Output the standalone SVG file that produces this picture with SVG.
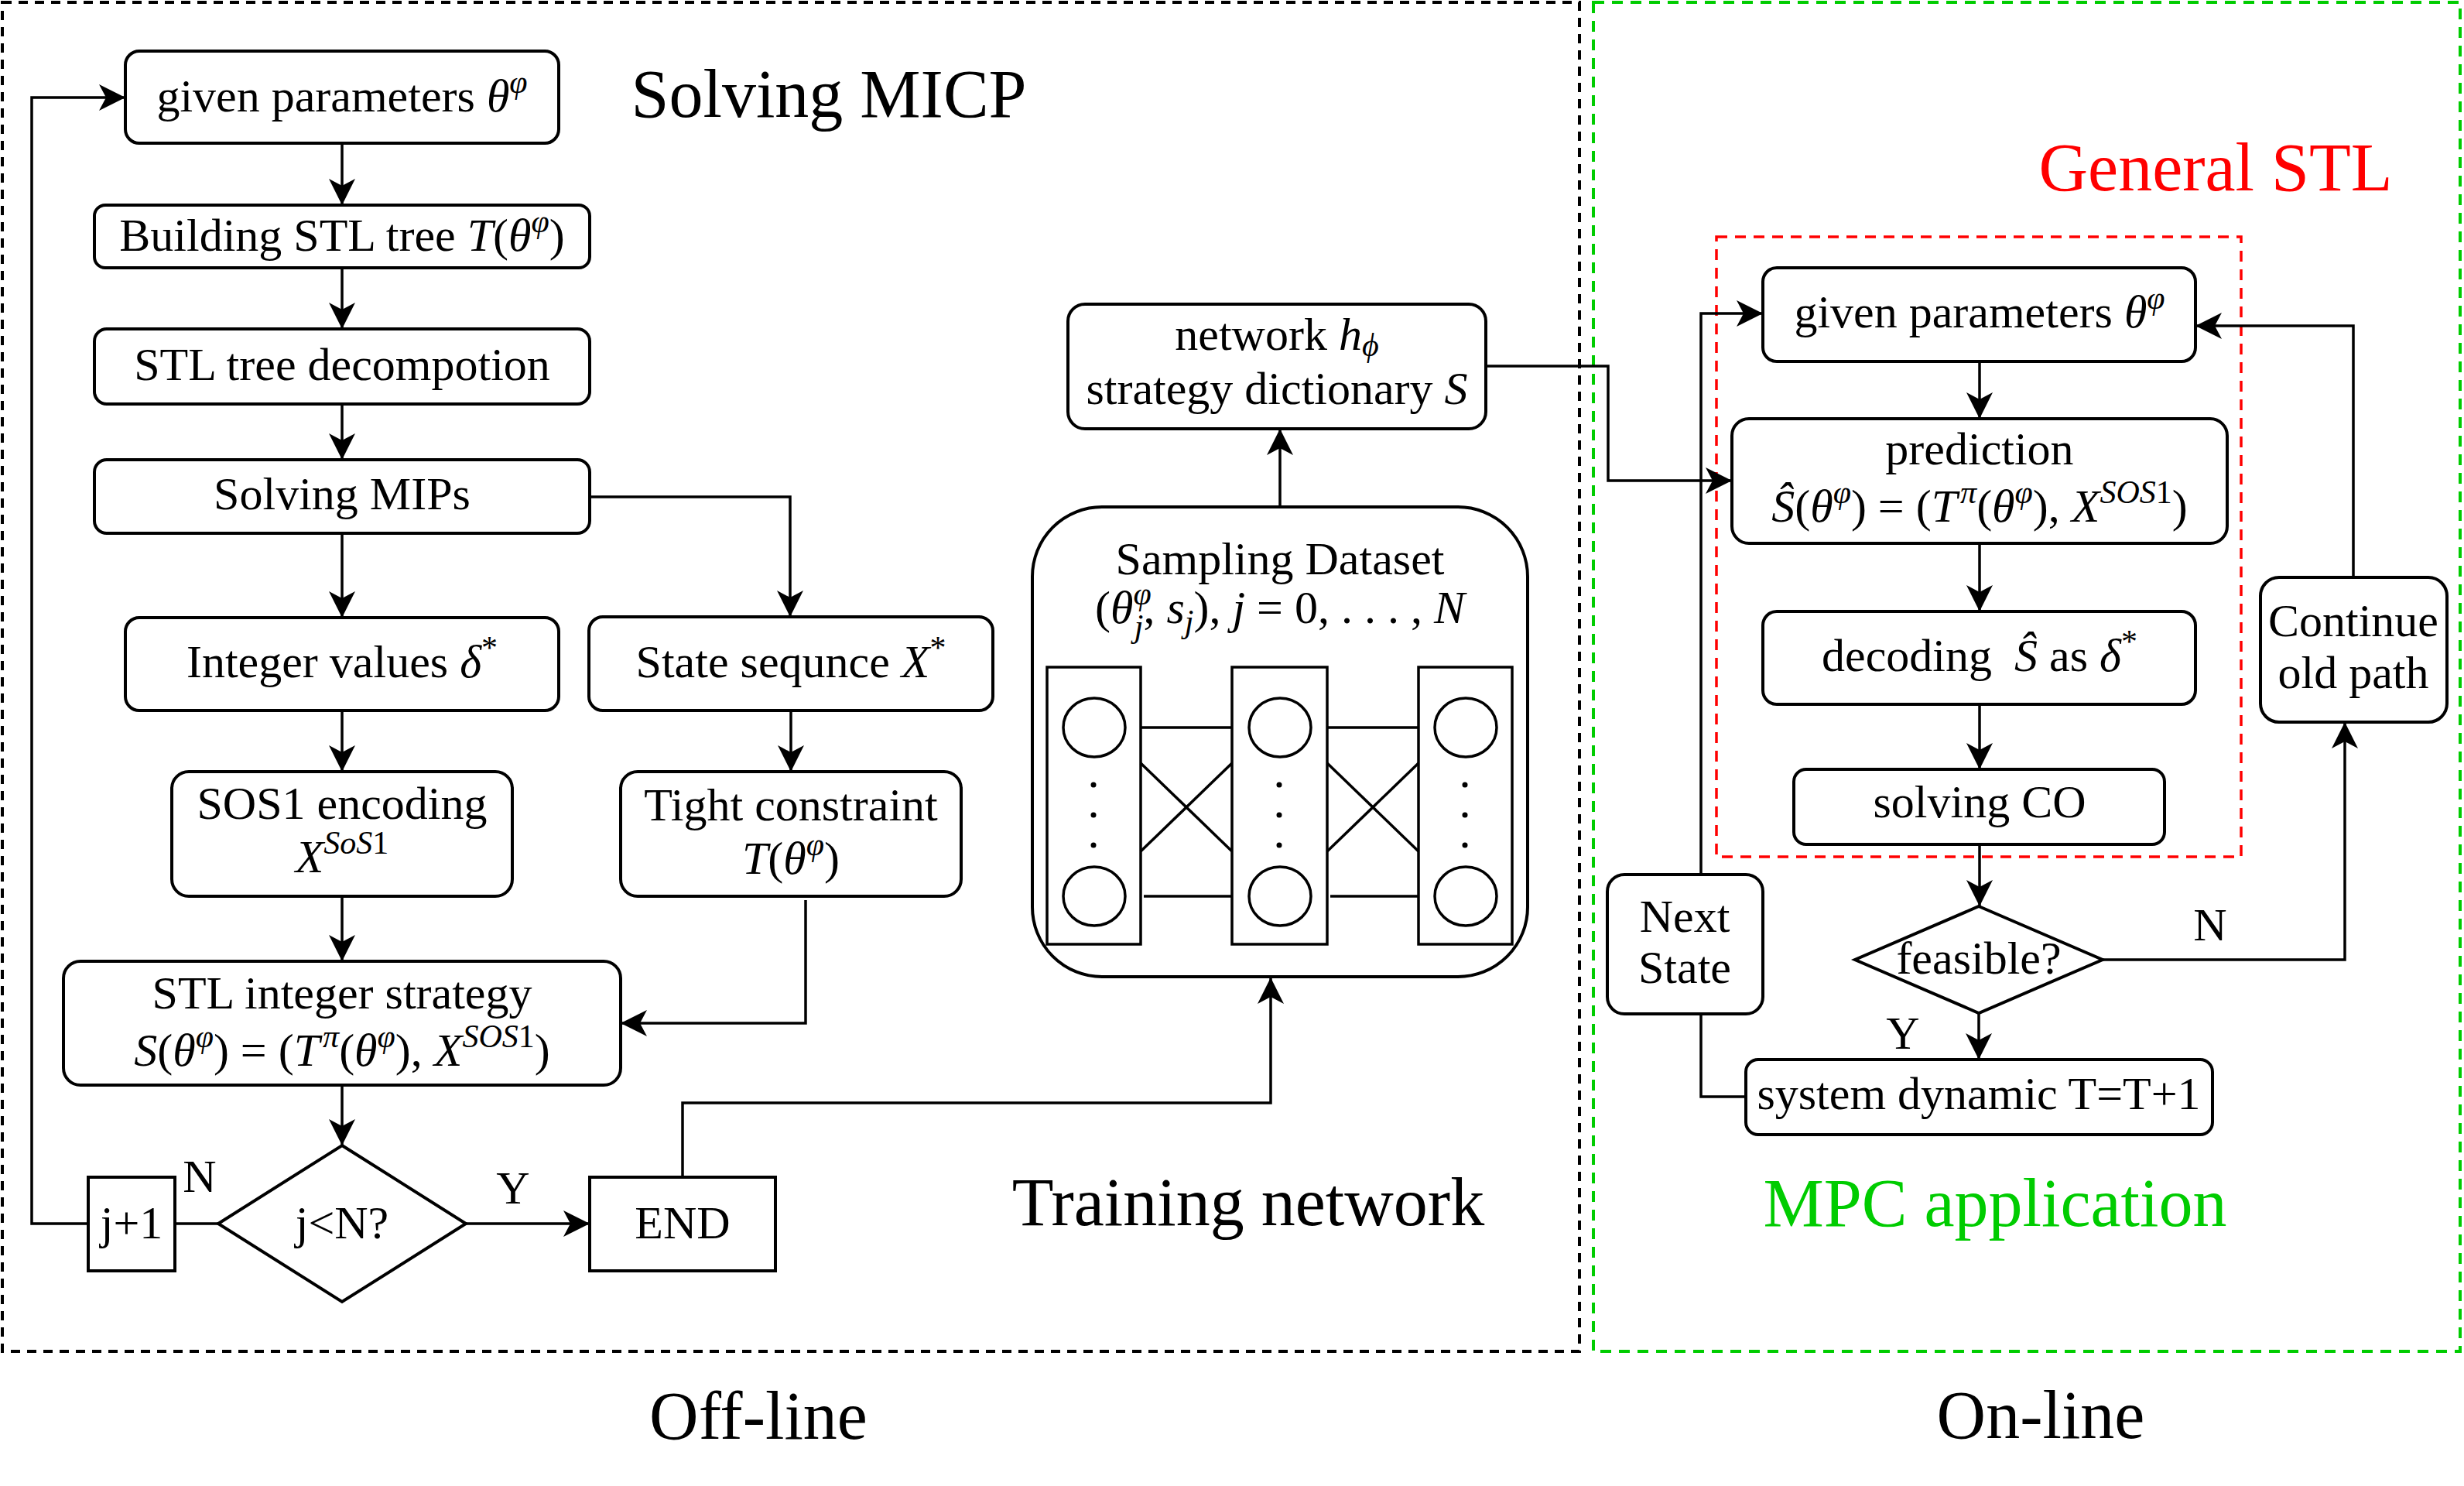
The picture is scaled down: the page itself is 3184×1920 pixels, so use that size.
<svg xmlns="http://www.w3.org/2000/svg" width="3184" height="1920" viewBox="0 0 3184 1920">
<defs>
<style>
.bg{fill:#fff}
.box{fill:#fff;stroke:#000;stroke-width:4}
.ln{fill:none;stroke:#000;stroke-width:3.5}
.thin{fill:none;stroke:#000;stroke-width:3.5}
.t{font-family:"Liberation Serif","Times New Roman",serif;font-size:60px;text-anchor:middle;fill:#000}
.big{font-size:88px}
.i{font-style:italic}
.s{font-size:42px}
.dashK{fill:none;stroke:#000;stroke-width:4;stroke-dasharray:12 9}
.dashG{fill:none;stroke:#00CC00;stroke-width:4;stroke-dasharray:14 10}
.dashR{fill:none;stroke:#FF0000;stroke-width:3.5;stroke-dasharray:14 10}
</style>
<marker id="ah" markerUnits="userSpaceOnUse" markerWidth="36" markerHeight="36" viewBox="0 0 36 36" refX="34" refY="18" orient="auto">
<path d="M0,1 L34,18 L0,35 L9,18 Z" fill="#000"/>
</marker>
</defs>
<rect class="bg" x="0" y="0" width="3184" height="1920"/>

<g id="frames">
<rect class="dashK" x="3" y="3" width="2038" height="1743"/>
<rect class="dashG" x="2059" y="3" width="1120" height="1743"/>
<rect class="dashR" x="2218" y="306" width="678" height="801"/>
</g>

<g id="labels">
<text class="t big" x="1071" y="151">Solving MICP</text>
<text class="t big" x="1613" y="1583">Training network</text>
<text class="t big" x="2863" y="246" style="fill:#FF0000">General STL</text>
<text class="t big" x="2578" y="1584" style="fill:#00CC00">MPC application</text>
<text class="t big" x="980" y="1859">Off-line</text>
<text class="t big" x="2637" y="1858">On-line</text>
<text class="t" x="258" y="1540">N</text>
<text class="t" x="663" y="1555">Y</text>
<text class="t" x="2856" y="1215">N</text>
<text class="t" x="2459" y="1355">Y</text>
</g>

<g id="n-given1">
<rect class="box" x="162" y="66" width="560" height="119" rx="18"/>
<text class="t" x="442" y="144">given parameters <tspan class="i">θ</tspan><tspan class="i s" dy="-24">φ</tspan></text>
</g>
<g id="n-build">
<rect class="box" x="122" y="265" width="640" height="81" rx="14"/>
<text class="t" x="442" y="324">Building STL tree <tspan class="i">T</tspan>(<tspan class="i">θ</tspan><tspan class="i s" dy="-24">φ</tspan><tspan dy="24">)</tspan></text>
</g>
<g id="n-decomp">
<rect class="box" x="122" y="425" width="640" height="97" rx="16"/>
<text class="t" x="442" y="491">STL tree decompotion</text>
</g>
<g id="n-mips">
<rect class="box" x="122" y="594" width="640" height="95" rx="16"/>
<text class="t" x="442" y="658">Solving MIPs</text>
</g>
<g id="n-integer">
<rect class="box" x="162" y="798" width="560" height="120" rx="18"/>
<text class="t" x="442" y="875">Integer values <tspan class="i">δ</tspan><tspan class="s" dy="-24">*</tspan></text>
</g>
<g id="n-state">
<rect class="box" x="761" y="797" width="522" height="121" rx="18"/>
<text class="t" x="1022" y="875">State sequnce <tspan class="i">X</tspan><tspan class="s" dy="-24">*</tspan></text>
</g>
<g id="n-sos1">
<rect class="box" x="222" y="997" width="440" height="161" rx="22"/>
<text class="t" x="442" y="1058">SOS1 encoding</text>
<text class="t" x="442" y="1127"><tspan class="i">X</tspan><tspan class="i s" dy="-24">SoS</tspan><tspan class="s">1</tspan></text>
</g>
<g id="n-tight">
<rect class="box" x="802" y="997" width="440" height="161" rx="22"/>
<text class="t" x="1022" y="1060">Tight constraint</text>
<text class="t" x="1022" y="1129"><tspan class="i">T</tspan>(<tspan class="i">θ</tspan><tspan class="i s" dy="-24">φ</tspan><tspan dy="24">)</tspan></text>
</g>
<g id="n-strategy">
<rect class="box" x="82" y="1242" width="720" height="160" rx="22"/>
<text class="t" x="442" y="1303">STL integer strategy</text>
<text class="t" x="442" y="1377"><tspan class="i">S</tspan>(<tspan class="i">θ</tspan><tspan class="i s" dy="-24">φ</tspan><tspan dy="24">) = (</tspan><tspan class="i">T</tspan><tspan class="i s" dx="4" dy="-24">π</tspan><tspan dy="24">(</tspan><tspan class="i">θ</tspan><tspan class="i s" dy="-24">φ</tspan><tspan dy="24">), </tspan><tspan class="i">X</tspan><tspan class="i s" dy="-24">SOS</tspan><tspan class="s">1</tspan><tspan dy="24">)</tspan></text>
</g>
<g id="n-jn">
<polygon class="box" points="442,1480 602,1581 442,1682 282,1581"/>
<text class="t" x="442" y="1600">j&lt;N?</text>
</g>
<g id="n-jplus">
<rect class="box" x="114" y="1521" width="112" height="121"/>
<text class="t" x="170" y="1600">j+1</text>
</g>
<g id="n-end">
<rect class="box" x="762" y="1521" width="240" height="121"/>
<text class="t" x="882" y="1600">END</text>
</g>

<g id="n-network">
<rect class="box" x="1380" y="393" width="540" height="161" rx="22"/>
<text class="t" x="1650" y="452">network <tspan class="i">h</tspan><tspan class="i s" dy="8">ϕ</tspan></text>
<text class="t" x="1650" y="522">strategy dictionary <tspan class="i">S</tspan></text>
</g>
<g id="n-sampling">
<rect class="box" x="1334" y="655" width="640" height="607" rx="90"/>
<text class="t" x="1654" y="742">Sampling Dataset</text>
<text class="t" x="1654" y="805">(<tspan class="i">θ</tspan><tspan class="i s" dy="-24">φ</tspan><tspan class="i s" dx="-22" dy="42">j</tspan><tspan dy="-18">, </tspan><tspan class="i">s</tspan><tspan class="i s" dy="12">j</tspan><tspan dy="-12">), </tspan><tspan class="i">j</tspan> = 0, . . . , <tspan class="i">N</tspan></text>
<rect class="thin" x="1353" y="862" width="121" height="358"/>
<rect class="thin" x="1592" y="862" width="123" height="358"/>
<rect class="thin" x="1833" y="862" width="121" height="358"/>
<ellipse class="thin" cx="1414" cy="940" rx="40" ry="38"/>
<ellipse class="thin" cx="1414" cy="1158" rx="40" ry="38"/>
<ellipse class="thin" cx="1654" cy="940" rx="40" ry="38"/>
<ellipse class="thin" cx="1654" cy="1158" rx="40" ry="38"/>
<ellipse class="thin" cx="1894" cy="940" rx="40" ry="38"/>
<ellipse class="thin" cx="1894" cy="1158" rx="40" ry="38"/>
<g fill="#000">
<circle cx="1413" cy="1014" r="3.5"/><circle cx="1413" cy="1053" r="3.5"/><circle cx="1413" cy="1092" r="3.5"/>
<circle cx="1653" cy="1014" r="3.5"/><circle cx="1653" cy="1053" r="3.5"/><circle cx="1653" cy="1092" r="3.5"/>
<circle cx="1893" cy="1014" r="3.5"/><circle cx="1893" cy="1053" r="3.5"/><circle cx="1893" cy="1092" r="3.5"/>
</g>
<path class="thin" d="M1474,940 H1592 M1478,1158 H1592 M1474,986 L1592,1100 M1474,1100 L1592,986 M1715,940 H1833 M1719,1158 H1833 M1715,986 L1833,1100 M1715,1100 L1833,986"/>
</g>

<g id="n-given2">
<rect class="box" x="2278" y="346" width="559" height="121" rx="18"/>
<text class="t" x="2558" y="423">given parameters <tspan class="i">θ</tspan><tspan class="i s" dy="-24">φ</tspan></text>
</g>
<g id="n-prediction">
<rect class="box" x="2238" y="541" width="640" height="161" rx="22"/>
<text class="t" x="2558" y="600">prediction</text>
<text class="t" x="2558" y="674"><tspan class="i">Ŝ</tspan>(<tspan class="i">θ</tspan><tspan class="i s" dy="-24">φ</tspan><tspan dy="24">) = (</tspan><tspan class="i">T</tspan><tspan class="i s" dx="4" dy="-24">π</tspan><tspan dy="24">(</tspan><tspan class="i">θ</tspan><tspan class="i s" dy="-24">φ</tspan><tspan dy="24">), </tspan><tspan class="i">X</tspan><tspan class="i s" dy="-24">SOS</tspan><tspan class="s">1</tspan><tspan dy="24">)</tspan></text>
</g>
<g id="n-decoding">
<rect class="box" x="2278" y="790" width="559" height="120" rx="18"/>
<text class="t" x="2558" y="867">decoding <tspan class="i" dx="14">Ŝ</tspan> as <tspan class="i">δ</tspan><tspan class="s" dy="-24">*</tspan></text>
</g>
<g id="n-solving">
<rect class="box" x="2318" y="994" width="479" height="97" rx="16"/>
<text class="t" x="2558" y="1056">solving CO</text>
</g>
<g id="n-continue">
<rect class="box" x="2921" y="746" width="241" height="187" rx="24"/>
<text class="t" x="3041" y="822">Continue</text>
<text class="t" x="3041" y="889">old path</text>
</g>
<g id="n-next">
<rect class="box" x="2077" y="1130" width="201" height="180" rx="22"/>
<text class="t" x="2177" y="1204">Next</text>
<text class="t" x="2177" y="1270">State</text>
</g>
<g id="n-feasible">
<polygon class="box" points="2557,1171 2717,1240 2557,1309 2397,1240"/>
<text class="t" x="2557" y="1258">feasible?</text>
</g>
<g id="n-system">
<rect class="box" x="2256" y="1369" width="603" height="97" rx="16"/>
<text class="t" x="2557" y="1433">system dynamic T=T+1</text>
</g>

<g id="connectors">
<path class="ln" d="M442,185 V265" marker-end="url(#ah)"/>
<path class="ln" d="M442,346 V425" marker-end="url(#ah)"/>
<path class="ln" d="M442,522 V594" marker-end="url(#ah)"/>
<path class="ln" d="M442,689 V798" marker-end="url(#ah)"/>
<path class="ln" d="M762,642 H1021 V797" marker-end="url(#ah)"/>
<path class="ln" d="M442,918 V997" marker-end="url(#ah)"/>
<path class="ln" d="M1022,918 V997" marker-end="url(#ah)"/>
<path class="ln" d="M442,1158 V1242" marker-end="url(#ah)"/>
<path class="ln" d="M1041,1163 V1322 H802" marker-end="url(#ah)"/>
<path class="ln" d="M442,1402 V1480" marker-end="url(#ah)"/>
<path class="ln" d="M602,1581 H762" marker-end="url(#ah)"/>
<path class="ln" d="M282,1581 H226"/>
<path class="ln" d="M114,1581 H41 V126 H162" marker-end="url(#ah)"/>
<path class="ln" d="M882,1521 V1425 H1642 V1263" marker-end="url(#ah)"/>
<path class="ln" d="M1654,655 V554" marker-end="url(#ah)"/>
<path class="ln" d="M1920,473 H2078 V621 H2238" marker-end="url(#ah)"/>
<path class="ln" d="M2558,467 V541" marker-end="url(#ah)"/>
<path class="ln" d="M2558,702 V790" marker-end="url(#ah)"/>
<path class="ln" d="M2558,910 V994" marker-end="url(#ah)"/>
<path class="ln" d="M2558,1091 V1171" marker-end="url(#ah)"/>
<path class="ln" d="M2557,1309 V1369" marker-end="url(#ah)"/>
<path class="ln" d="M2717,1240 H3030 V933" marker-end="url(#ah)"/>
<path class="ln" d="M3041,746 V421 H2837" marker-end="url(#ah)"/>
<path class="ln" d="M2256,1417 H2198 V1310"/>
<path class="ln" d="M2198,1130 V405 H2278" marker-end="url(#ah)"/>
</g>
</svg>
